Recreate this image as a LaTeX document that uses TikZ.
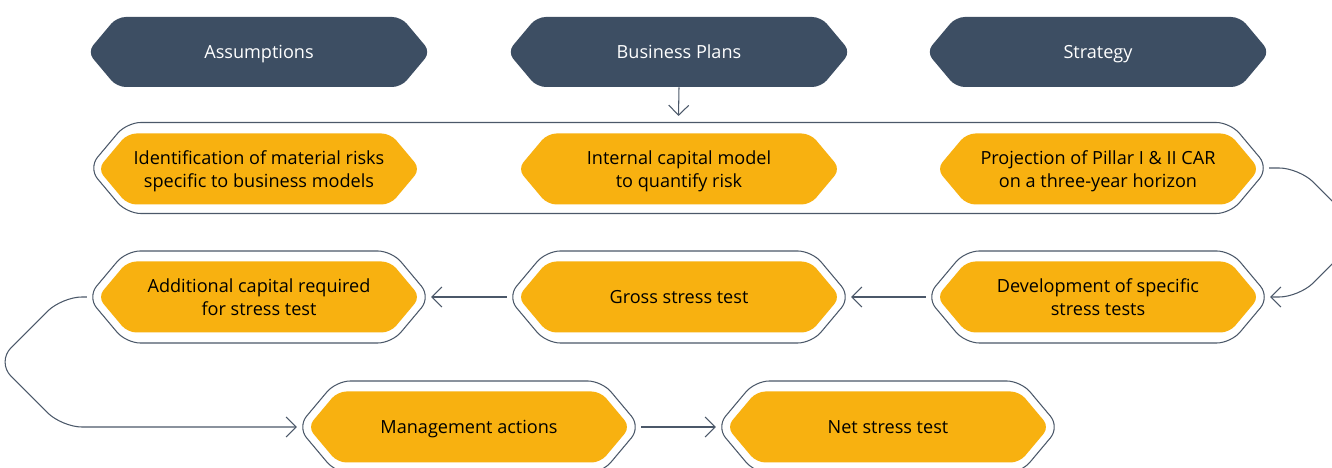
\documentclass[tikz,border=0pt]{standalone}
\usepackage{fontspec}
\setmainfont{Open Sans}
\usetikzlibrary{shapes.symbols,arrows.meta,positioning}
\definecolor{navy}{RGB}{61,78,99}
\definecolor{amber}{RGB}{248,177,16}
\definecolor{slate}{RGB}{75,88,105}

\begin{document}
\begin{tikzpicture}[
    hexa/.style={signal, signal to=west and east, signal pointer angle=100,
      rounded corners=5pt, inner sep=0pt, align=center, text depth=0pt,
      font=\fontsize{10.3}{13}\selectfont},
    head/.style={hexa, fill=navy, text=white, minimum width=6.86cm, minimum height=1.4cm},
    task/.style={hexa, fill=amber, text=black, minimum width=6.45cm, minimum height=1.42cm},
    ring/.style={hexa, draw=slate, line width=0.6pt, fill=white,
      minimum width=6.86cm, minimum height=1.84cm, rounded corners=8pt},
    flow/.style={draw=slate, line width=0.6pt, -{Straight Barb[length=0.2cm,width=0.4cm]}}
  ]
        \clip (0,0) rectangle (26.64,-9.36);
        % inputs
        \node[head] (assum) at (5.18,-1.04) {Assumptions};
        \node[head] (plans) at (13.58,-1.04) {Business Plans};
        \node[head] (strat) at (21.96,-1.04) {Strategy};
        % capital model
        \node[ring, minimum width=23.6cm, minimum height=1.82cm] (frame) at (13.57,-3.36) {};
        \node[task] (risks) at (5.18,-3.38) {Identification of material risks\\specific to business models};
        \node[task] (model) at (13.58,-3.38) {Internal capital model\\to quantify risk};
        \node[task] (proj) at (21.96,-3.38) {Projection of Pillar I \& II CAR\\on a three-year horizon};
        % stress tests
        \foreach \n/\x/\y in {addo/5.18/-5.94, grosso/13.58/-5.94, devo/21.96/-5.94,
                              mgmto/9.38/-8.54, neto/17.76/-8.54}
        \node[ring] (\n) at (\x,\y) {};
        \node[task] (add) at (addo) {Additional capital required\\for stress test};
        \node[task] (gross) at (grosso) {Gross stress test};
        \node[task] (dev) at (devo) {Development of specific\\stress tests};
        \node[task] (mgmt) at (mgmto) {Management actions};
        \node[task] (net) at (neto) {Net stress test};
        % links
        \draw[flow] (plans.south) -- ([yshift=0.12cm]frame.north);
        \draw[flow, rounded corners=0.4cm] (frame.east) -- ++(0.6,0) -- ++(1.29,-1.29)
          -- ++(-1.29,-1.29) -- (devo.east);
        \draw[flow] (devo.west) -- (grosso.east);
        \draw[flow] (grosso.west) -- (addo.east);
        \draw[flow, rounded corners=0.4cm] (addo.west) -- ++(-0.5,0) -- ++(-1.3,-1.3)
          -- ++(1.3,-1.3) -- (mgmto.west);
        \draw[flow] (mgmto.east) -- (neto.west);
    \end{tikzpicture}
\end{document}
